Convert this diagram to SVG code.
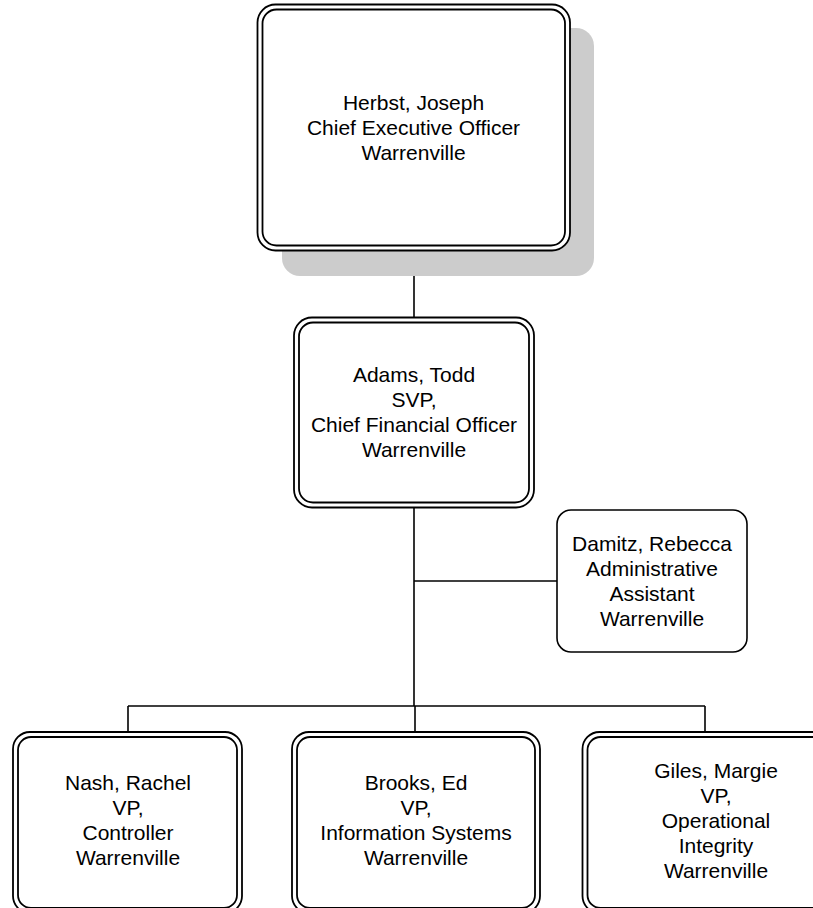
<svg xmlns="http://www.w3.org/2000/svg" width="813" height="908" viewBox="0 0 813 908">
<style>
.o{fill:#fff;stroke:#000;stroke-width:1.8}
.i{fill:none;stroke:#000;stroke-width:1.8}
.s{fill:#fff;stroke:#000;stroke-width:1.6}
.sh{fill:#cccccc}
.c{fill:none;stroke:#000;stroke-width:1.6}
text{font-family:"Liberation Sans",Arial,sans-serif;font-size:21px;fill:#000;text-anchor:middle}
</style>
<rect width="813" height="908" fill="#fff"/>
<g id="connectors">
<line class="c" x1="414" y1="250" x2="414" y2="318"/>
<line class="c" x1="414" y1="507" x2="414" y2="706"/>
<line class="c" x1="414" y1="581" x2="557" y2="581"/>
<line class="c" x1="128" y1="706" x2="705" y2="706"/>
<line class="c" x1="128" y1="706" x2="128" y2="732"/>
<line class="c" x1="415" y1="706" x2="415" y2="732"/>
<line class="c" x1="705" y1="706" x2="705" y2="732"/>
</g>
<g id="herbst">
<rect class="sh" x="282" y="28" width="312" height="248" rx="18"/>
<rect class="o" x="257.5" y="4.5" width="312.5" height="246" rx="18"/>
<rect class="i" x="262.5" y="9.5" width="302.5" height="236" rx="14"/>
<text x="413.5" y="110">Herbst, Joseph</text>
<text x="413.5" y="135">Chief Executive Officer</text>
<text x="413.5" y="160">Warrenville</text>
</g>
<g id="adams">
<rect class="o" x="294" y="317.5" width="240" height="190" rx="18"/>
<rect class="i" x="299" y="322.5" width="230" height="180" rx="14"/>
<text x="414" y="382">Adams, Todd</text>
<text x="414" y="407">SVP,</text>
<text x="414" y="432">Chief Financial Officer</text>
<text x="414" y="457">Warrenville</text>
</g>
<g id="damitz">
<rect class="s" x="557" y="510" width="190" height="142" rx="14"/>
<text x="652" y="551">Damitz, Rebecca</text>
<text x="652" y="576">Administrative</text>
<text x="652" y="601">Assistant</text>
<text x="652" y="626">Warrenville</text>
</g>
<g id="nash">
<rect class="o" x="13" y="732" width="229" height="181" rx="17"/>
<rect class="i" x="18" y="737" width="219" height="171" rx="13"/>
<text x="128" y="790">Nash, Rachel</text>
<text x="128" y="815">VP,</text>
<text x="128" y="840">Controller</text>
<text x="128" y="865">Warrenville</text>
</g>
<g id="brooks">
<rect class="o" x="292" y="732" width="248" height="181" rx="17"/>
<rect class="i" x="297" y="737" width="238" height="171" rx="13"/>
<text x="416" y="790">Brooks, Ed</text>
<text x="416" y="815">VP,</text>
<text x="416" y="840">Information Systems</text>
<text x="416" y="865">Warrenville</text>
</g>
<g id="giles">
<rect class="o" x="582.5" y="732" width="268" height="181" rx="17"/>
<rect class="i" x="587.5" y="737" width="258" height="171" rx="13"/>
<text x="716" y="778">Giles, Margie</text>
<text x="716" y="803">VP,</text>
<text x="716" y="828">Operational</text>
<text x="716" y="853">Integrity</text>
<text x="716" y="878">Warrenville</text>
</g>
</svg>
